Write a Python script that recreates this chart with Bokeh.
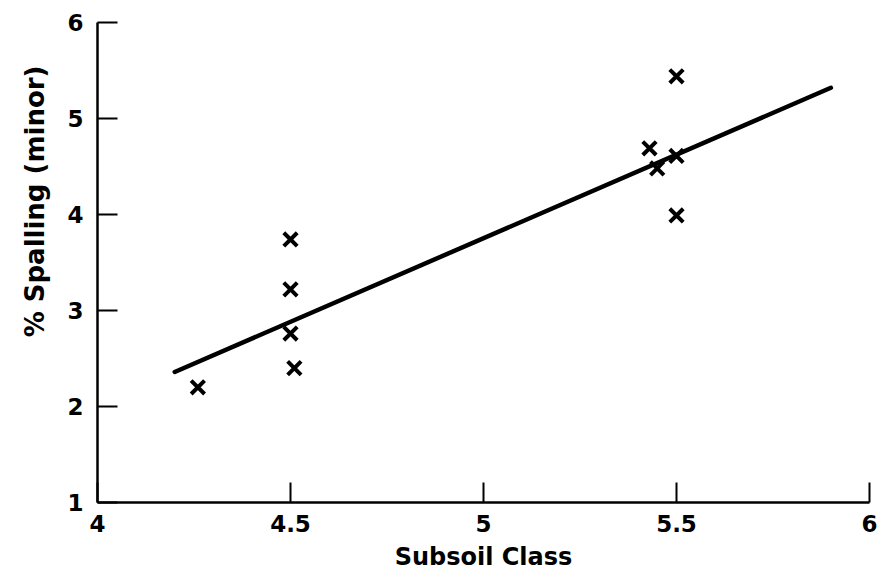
from bokeh.plotting import figure
from bokeh.models import Range1d, FixedTicker, Title
from bokeh.embed import file_html
from bokeh.resources import INLINE

# data
subsoil_class = [4.26, 4.5, 4.5, 4.5, 4.51, 5.43, 5.45, 5.5, 5.5, 5.5]
spalling = [2.20, 3.74, 3.22, 2.76, 2.40, 4.69, 4.48, 4.61, 5.44, 3.99]
fit_x = [4.20, 5.90]
fit_y = [2.36, 5.32]
x_ticks = [4, 4.5, 5, 5.5, 6]
y_ticks = [1, 2, 3, 4, 5, 6]

FONT = "DejaVu Sans"

p = figure(width=877, height=576, output_backend="svg", toolbar_location=None,
           x_range=Range1d(4, 6), y_range=Range1d(1, 6),
           min_border_left=97, min_border_right=8, min_border_top=22, min_border_bottom=74)
p.outline_line_color = None
p.xgrid.visible = False
p.ygrid.visible = False
p.background_fill_color = "white"

p.line(fit_x, fit_y, line_color="black", line_width=4.5, line_cap="round")
p.scatter(subsoil_class, spalling, marker="x", size=19, line_color="black", line_width=4)

for ax in (p.xaxis[0], p.yaxis[0]):
    ax.axis_line_width = 2.5
    ax.axis_line_color = "black"
    ax.major_tick_in = 20
    ax.major_tick_out = 0
    ax.major_tick_line_width = 2
    ax.major_tick_line_color = "black"
    ax.minor_tick_line_color = None
    ax.major_label_text_font = FONT
    ax.major_label_text_font_style = "bold"
    ax.major_label_text_font_size = "23px"
    ax.major_label_text_color = "black"

p.xaxis.ticker = FixedTicker(ticks=x_ticks)
p.yaxis.ticker = FixedTicker(ticks=y_ticks)
p.xaxis.major_label_standoff = 12
p.yaxis.major_label_standoff = 14

p.xaxis.axis_label = "Subsoil Class"
p.xaxis.axis_label_text_font = FONT
p.xaxis.axis_label_text_font_style = "bold"
p.xaxis.axis_label_text_font_size = "24px"
p.xaxis.axis_label_text_color = "black"
p.xaxis.axis_label_standoff = 8

ytitle = Title(text="% Spalling (minor)", align="right", offset=43,
               text_font=FONT, text_font_style="bold", text_font_size="26px",
               text_color="black", standoff=30)
p.add_layout(ytitle, "left")

open("out.html", "w").write(file_html(p, INLINE))
